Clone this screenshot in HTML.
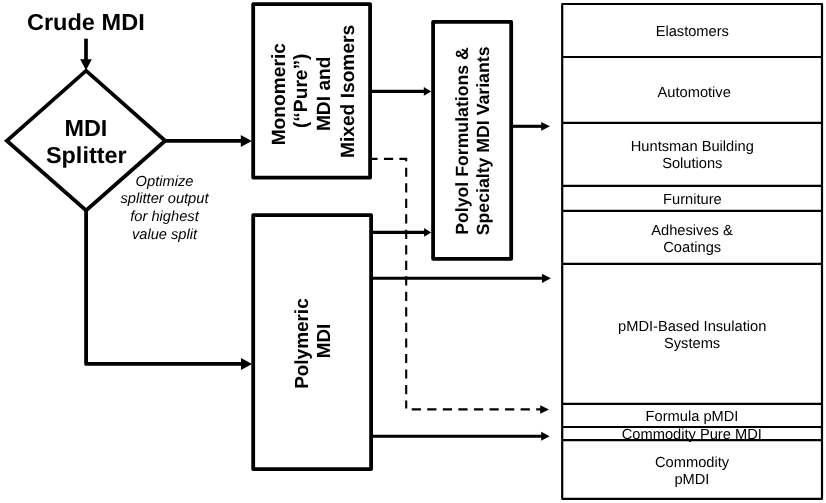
<!DOCTYPE html>
<html><head><meta charset="utf-8"><title>MDI Splitter</title>
<style>
html,body{margin:0;padding:0;background:#fff;}
svg{display:block;will-change:transform;}
text{font-family:"Liberation Sans",Arial,sans-serif;fill:#000;text-rendering:geometricPrecision;}
.b{font-weight:bold;}
.t{font-size:14.67px;text-anchor:middle;}
.i{font-size:14.67px;font-style:italic;text-anchor:middle;}
</style></head>
<body>
<svg width="826" height="503" viewBox="0 0 826 503">
<rect width="826" height="503" fill="#fff"/>

<!-- title -->
<text class="b" transform="translate(85.8,30.1) scale(1.02,1)" font-size="23.1" text-anchor="middle">Crude MDI</text>

<!-- arrow crude -> diamond -->
<line x1="86" y1="38.7" x2="86" y2="60" stroke="#000" stroke-width="3.7"/>
<polygon points="80.15,59.3 91.85,59.3 86,70.3"/>

<!-- diamond -->
<polygon points="6.8,140.8 86.1,70.7 165.2,140.8 86.1,210.5" fill="none" stroke="#000" stroke-width="3.8" stroke-linejoin="miter"/>
<text class="b" transform="translate(85.9,135.9) scale(1.015,1)" font-size="23.1" text-anchor="middle">MDI</text>
<text class="b" transform="translate(86.3,163) scale(1.015,1)" font-size="23.1" text-anchor="middle">Splitter</text>

<!-- diamond -> box1 -->
<line x1="165" y1="140.9" x2="243" y2="140.9" stroke="#000" stroke-width="3.8"/>
<polygon points="240.8,134.9 240.8,146.9 251.7,140.9"/>

<!-- diamond -> box2 -->
<polyline points="86.1,210 86.1,363.9 243,363.9" fill="none" stroke="#000" stroke-width="3.8" stroke-linejoin="round"/>
<polygon points="241,357.9 241,369.9 252,363.9"/>

<!-- italics note -->
<text class="i" x="164.5" y="185.8">Optimize</text>
<text class="i" x="164.5" y="203.4">splitter output</text>
<text class="i" x="164.5" y="221">for highest</text>
<text class="i" x="164.5" y="238.6">value split</text>

<!-- box 1 -->
<rect x="253.2" y="4.2" width="116.9" height="173.4" fill="none" stroke="#000" stroke-width="3.8" stroke-linejoin="round"/>
<g class="b" font-size="19.2" text-anchor="middle">
<text transform="translate(284.7,94.2) rotate(-90)">Monomeric</text>
<text transform="translate(307.2,90.8) rotate(-90)">(“Pure”)</text>
<text transform="translate(330.4,93.8) rotate(-90)">MDI and</text>
<text transform="translate(353.5,91.4) rotate(-90)">Mixed Isomers</text>
</g>

<!-- box 2 -->
<rect x="253.2" y="215.1" width="117.9" height="254" fill="none" stroke="#000" stroke-width="3.8" stroke-linejoin="round"/>
<g class="b" font-size="18.95" text-anchor="middle">
<text transform="translate(307.7,343.6) rotate(-90)">Polymeric</text>
<text transform="translate(330.2,341) rotate(-90)">MDI</text>
</g>

<!-- box 3 -->
<rect x="433.1" y="21.9" width="78.1" height="236.9" fill="none" stroke="#000" stroke-width="3.8" stroke-linejoin="round"/>
<g class="b" font-size="17.7" text-anchor="middle">
<text transform="translate(467.6,141) rotate(-90)">Polyol Formulations &amp;</text>
<text transform="translate(488.9,140.9) rotate(-90)">Specialty MDI Variants</text>
</g>

<!-- arrows thin -->
<g stroke="#000" stroke-width="3.1" fill="none">
<line x1="371" y1="91.4" x2="426" y2="91.4"/>
<line x1="372" y1="232.4" x2="426" y2="232.4"/>
<line x1="512" y1="126.3" x2="543" y2="126.3"/>
<line x1="372" y1="278.3" x2="544" y2="278.3"/>
<line x1="372" y1="436.3" x2="543" y2="436.3"/>
</g>
<polygon points="423.8,87 423.8,95.8 431.2,91.4"/>
<polygon points="424.1,228 424.1,236.8 431.2,232.4"/>
<polygon points="541.2,121.9 541.2,130.7 550,126.3"/>
<polygon points="542,273.7 542,282.9 550.8,278.3"/>
<polygon points="541.2,431.8 541.2,440.8 549.6,436.3"/>

<!-- dashed -->
<g stroke="#000" stroke-width="2.1" fill="none" stroke-dasharray="9.2 6.35">
<polyline points="370,158.9 406.2,158.9 406.2,408.6" stroke-dasharray="9.2 6.32" stroke-dashoffset="1.6"/>
<line x1="411.7" y1="409.4" x2="541" y2="409.4" stroke-dasharray="9.2 6.36"/>
</g>
<polygon points="540.2,405.2 540.2,413.7 549,409.4"/>

<!-- table -->
<g stroke="#000" stroke-width="2.2" fill="none">
<rect x="562.2" y="4" width="259.8" height="494.8" stroke-linejoin="round"/>
<line x1="562.2" y1="57" x2="822" y2="57"/>
<line x1="562.2" y1="122.8" x2="822" y2="122.8"/>
<line x1="562.2" y1="185.9" x2="822" y2="185.9"/>
<line x1="562.2" y1="210.9" x2="822" y2="210.9"/>
<line x1="562.2" y1="263.8" x2="822" y2="263.8"/>
<line x1="562.2" y1="403.8" x2="822" y2="403.8"/>
<line x1="562.2" y1="427" x2="822" y2="427"/>
<line x1="562.2" y1="440.2" x2="822" y2="440.2"/>
</g>
<g class="t">
<text x="692.3" y="36.3">Elastomers</text>
<text x="694.2" y="96.9">Automotive</text>
<text x="692.3" y="150.9">Huntsman Building</text>
<text x="692.3" y="167.8">Solutions</text>
<text x="692.4" y="203.6">Furniture</text>
<text x="692" y="234.8">Adhesives &amp;</text>
<text x="692.2" y="251.7">Coatings</text>
<text x="692.2" y="330.9">pMDI-Based Insulation</text>
<text x="692.1" y="347.5">Systems</text>
<text x="692" y="420.7">Formula pMDI</text>
<text x="691.8" y="438.9">Commodity Pure MDI</text>
<text x="692.1" y="466.5">Commodity</text>
<text x="691.9" y="483.5">pMDI</text>
</g>
</svg>
</body></html>
